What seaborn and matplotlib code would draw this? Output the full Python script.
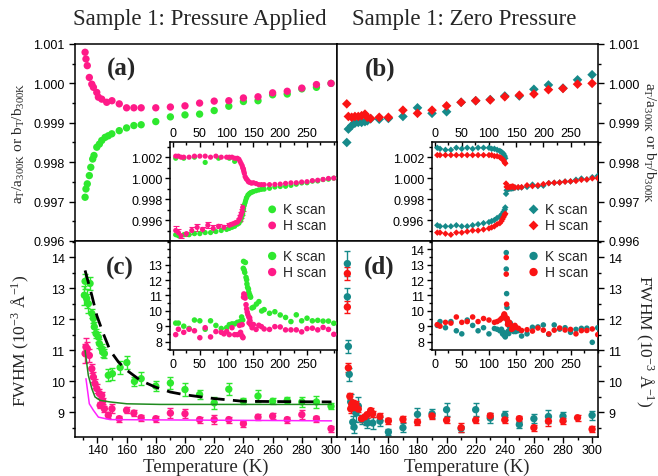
import numpy as np
import matplotlib
matplotlib.use('Agg')
import matplotlib.pyplot as plt
import seaborn as sns
from matplotlib.ticker import MultipleLocator, FormatStrFormatter

sns.set_theme(style='ticks')
plt.rcParams['font.family'] = ['Liberation Sans', 'DejaVu Sans']
plt.rcParams['mathtext.fontset'] = 'custom'
plt.rcParams['mathtext.rm'] = 'Liberation Serif'
plt.rcParams['mathtext.it'] = 'Liberation Serif:italic'
plt.rcParams['axes.linewidth'] = 1.1
plt.rcParams['axes.edgecolor'] = 'black'

SERIF = 'Liberation Serif'
C_GREEN = '#2ee82e'
C_PINK = '#ff1a88'
C_TEAL = '#168a8a'
C_RED = '#fa1414'
C_DKGREEN = '#1f8a1f'
C_MAGENTA = '#ff22ff'

# ---- panel (a): lattice ratio, pressure applied ----
t_a_k = [131.6, 132.2, 133.1, 134.5, 135.5, 136.8, 137.7, 139.6, 141.4, 143, 145.3, 147.5, 149.9,
         155, 160, 165, 170, 180, 190, 200, 210, 220, 230, 240, 250, 260, 270, 280, 290, 300]
a_k = [0.99711, 0.99732, 0.99745, 0.99766, 0.99787, 0.99808, 0.99817, 0.99838, 0.99846, 0.99855,
       0.99863, 0.99867, 0.99872, 0.9988, 0.99887, 0.99893, 0.99895, 0.99903, 0.99915, 0.9992,
       0.99922, 0.99931, 0.99942, 0.99954, 0.99956, 0.99971, 0.99973, 0.99986, 0.9999, 1.0]
t_a_h = [131.6, 132.2, 133.1, 134.5, 136.2, 137.3, 139.6, 140.7, 143, 146.4, 150, 155, 160, 165,
         170, 180, 190, 200, 210, 220, 230, 240, 250, 260, 270, 280, 290, 300]
a_h = [1.00079, 1.00062, 1.00045, 1.00015, 0.99998, 0.9999, 0.99977, 0.99965, 0.9996, 0.99952,
       0.99956, 0.99948, 0.99938, 0.99938, 0.99938, 0.99938, 0.9994, 0.99943, 0.9995, 0.99955,
       0.99956, 0.99963, 0.99966, 0.99976, 0.9998, 0.99988, 0.99997, 1.0]

# ---- panel (b): lattice ratio, zero pressure ----
t_b = [131.4, 132.5, 134.8, 137, 139.3, 141.6, 143.9, 145.5, 147.8, 153.7, 160, 170, 180, 190,
       200, 210, 220, 230, 240, 250, 260, 270, 280, 290, 300]
b_k = [0.9985, 0.99884, 0.99893, 0.99899, 0.99901, 0.99901, 0.99903, 0.99905, 0.9991, 0.99909,
       0.99911, 0.99916, 0.99938, 0.99924, 0.99928, 0.99952, 0.99956, 0.99959, 0.99968, 0.99968,
       0.99985, 0.99996, 0.99988, 1.00009, 1.00022]
b_h = [0.99948, 0.99916, 0.99914, 0.99916, 0.99916, 0.99918, 0.99922, 0.99914, 0.99911, 0.99914,
       0.99914, 0.99932, 0.99924, 0.99932, 0.99943, 0.99952, 0.99956, 0.99958, 0.99966, 0.9997,
       0.99973, 0.99984, 0.99987, 0.99998, 1.0]

# ---- panel (c): FWHM, pressure applied ----
t_c_k = [131.1, 131.6, 132.7, 133.8, 135, 136.2, 137.3, 137.9, 139.1, 140.7, 141.4, 143, 143.7,
         144.8, 147.5, 150.3, 155.6, 160.2, 165.4, 170, 180, 190, 200, 210, 220, 230, 240, 250,
         260, 270, 280, 290, 300]
c_k = [12.77, 13.22, 12.66, 12.5, 13.15, 12.18, 12.02, 11.75, 11.53, 11.42, 11.21, 11.05, 10.94,
       10.89, 10.19, 10.24, 10.44, 10.6, 9.99, 10.08, 9.84, 9.94, 9.73, 9.57, 9.3, 9.74, 9.35,
       9.52, 9.35, 9.38, 9.33, 9.33, 9.19]
c_k_err = [0.3, 0.25, 0.3, 0.3, 0.2, 0.15, 0.15, 0.15, 0.15, 0.15, 0.15, 0.15, 0.15, 0.15, 0.2,
           0.2, 0.2, 0.2, 0.15, 0.2, 0.15, 0.2, 0.2, 0.15, 0.2, 0.2, 0.1, 0.2, 0.1, 0.1, 0.15,
           0.2, 0.1]
t_c_h = [131.6, 132.2, 133.1, 134.5, 136.2, 137.3, 138.4, 139.6, 141.4, 141.9, 143, 143.7, 144.8,
         147.5, 150, 155, 160, 165, 170, 180, 190, 200, 210, 220, 230, 240, 250, 260, 270, 280,
         290, 300]
c_h = [10.89, 11.1, 11.05, 10.83, 10.4, 10.13, 9.92, 9.76, 9.6, 9.22, 9.54, 9.35, 9.11, 8.9,
       9.11, 8.79, 9.06, 8.97, 8.82, 8.79, 8.97, 8.95, 8.76, 8.76, 8.76, 8.63, 8.84, 8.87, 8.76,
       8.92, 8.79, 8.47]
c_h_err = [0.3, 0.3, 0.2, 0.2, 0.15, 0.15, 0.15, 0.15, 0.15, 0.1, 0.1, 0.1, 0.1, 0.1, 0.15, 0.1,
           0.1, 0.1, 0.1, 0.1, 0.15, 0.15, 0.1, 0.15, 0.1, 0.1, 0.1, 0.1, 0.1, 0.15, 0.1, 0.1]
fit_k_t = [131.6, 136.2, 139.6, 144.1, 148.7, 154.4, 160.2, 169.3, 179.6, 189.9, 200, 219.6, 240, 300.3]
fit_k = [13.57, 12.77, 12.12, 11.53, 10.99, 10.62, 10.35, 10.03, 9.81, 9.65, 9.56, 9.44, 9.35, 9.33]
line_k_t = [131.6, 133.8, 136.2, 138.4, 141.9, 148.7, 160.2, 183, 300.3]
line_k = [10.99, 10.19, 9.76, 9.49, 9.38, 9.33, 9.27, 9.25, 9.25]
line_h_t = [132.2, 134.5, 137.3, 140.7, 148.7, 300.3]
line_h = [10.08, 9.27, 9.06, 8.84, 8.76, 8.72]

# ---- panel (d): FWHM, zero pressure ----
t_d_k = [131.8, 131.8, 132.5, 133.1, 134.1, 135.5, 136.4, 137.7, 139.3, 141.6, 144.6, 145.5,
         149.2, 154.2, 160, 170, 180, 190, 200, 210, 220, 230, 240, 250, 260, 270, 280, 300]
d_k = [13.79, 12.72, 11.12, 10.22, 9.33, 8.68, 8.52, 8.97, 9.2, 8.76, 8.74, 8.65, 8.65, 8.71,
       8.36, 8.5, 8.93, 8.95, 9.08, 8.47, 9.08, 8.81, 8.9, 8.6, 8.79, 8.86, 8.87, 8.9]
d_k_err = [0.4, 0.3, 0.2, 0.2, 0.25, 0.2, 0.2, 0.3, 0.3, 0.15, 0.15, 0.15, 0.2, 0.15, 0.1, 0.15,
           0.2, 0.15, 0.2, 0.1, 0.2, 0.15, 0.15, 0.1, 0.15, 0.2, 0.15, 0.15]
t_d_h = [131.8, 131.8, 132.5, 133.5, 134.1, 134.8, 135.5, 136.4, 137.7, 139.3, 141.6, 143.9,
         145.5, 147.8, 149.2, 154.2, 160, 170, 180, 190, 200, 210, 220, 230, 240, 250, 260, 270,
         280, 290, 300]
d_h = [13.47, 12.39, 10.43, 9.51, 9.11, 9.25, 9.3, 9.15, 9.25, 9.1, 8.79, 8.85, 8.92, 9.05, 8.95,
       8.86, 8.72, 8.77, 8.68, 8.88, 8.74, 8.5, 8.74, 8.88, 8.75, 8.79, 8.5, 8.71, 8.72, 8.82, 8.45]
d_h_err = [0.2, 0.2, 0.15, 0.1, 0.15, 0.1, 0.1, 0.1, 0.1, 0.1, 0.1, 0.1, 0.1, 0.1, 0.1, 0.1, 0.1,
           0.1, 0.1, 0.1, 0.1, 0.15, 0.1, 0.1, 0.1, 0.1, 0.1, 0.15, 0.1, 0.1, 0.1]

# ---- inset low-temperature parts (full range 0-300 K) ----
ia_t_k_low = [5, 10, 20, 30, 40, 50, 60, 70, 80, 90, 100, 105, 110, 115, 120, 123, 125, 127, 129, 130, 131]
ia_k_low = [0.9946, 0.9945, 0.9946, 0.9946, 0.9947, 0.9947, 0.9948, 0.9948, 0.9949, 0.9950, 0.9951,
            0.9952, 0.9953, 0.9954, 0.9956, 0.9957, 0.9959, 0.9961, 0.9964, 0.9966, 0.9969]
ia_t_k_up = [5, 20, 40, 60, 85, 105, 115]
ia_k_up = [1.0019, 1.0019, 1.0020, 1.0015, 1.0019, 1.0019, 1.0016]
ia_t_h_up = [5, 10, 15, 20, 30, 40, 50, 60, 70, 80, 90, 100, 105, 110, 115, 120, 123, 125, 127, 129, 130, 131]
ia_h_up = [1.0021, 1.0021, 1.0020, 1.0020, 1.0020, 1.0021, 1.0021, 1.0021, 1.0020, 1.0021, 1.0020,
           1.0020, 1.0020, 1.0020, 1.0019, 1.0019, 1.0018, 1.0016, 1.0014, 1.0012, 1.0010, 1.0009]
ia_t_h_low = [5, 10, 15, 25, 35, 45, 55, 65, 75, 85, 95, 105, 110, 115, 120, 123, 125, 127, 129, 130]
ia_h_low = [0.9950, 0.9948, 0.9945, 0.9947, 0.9950, 0.9953, 0.9951, 0.9955, 0.9952, 0.9954, 0.9953,
            0.9955, 0.9956, 0.9957, 0.9958, 0.9960, 0.9962, 0.9965, 0.9968, 0.9972]
ia_h_low_err = [0.0004, 0.0003, 0.0002, 0.0002, 0.0003, 0.0003, 0.0002, 0.0003, 0.0003, 0.0002,
                0.0002, 0.0002, 0.0002, 0.0002, 0.0002, 0.0002, 0.0003, 0.0003, 0.0003, 0.0003]

ib_t_low = [5, 10, 20, 30, 40, 50, 60, 70, 80, 90, 100, 105, 110, 115, 120, 123, 125, 127, 129, 130]
ib_k_up = [1.0029, 1.0028, 1.0027, 1.0027, 1.0029, 1.0028, 1.0029, 1.0028, 1.0029, 1.0029, 1.0029,
           1.0028, 1.0028, 1.0027, 1.0026, 1.0025, 1.0024, 1.0023, 1.0021, 1.0019]
ib_h_up = [1.0022, 1.0022, 1.0022, 1.0022, 1.0022, 1.0022, 1.0022, 1.0022, 1.0022, 1.0022, 1.0022,
           1.0022, 1.0021, 1.0021, 1.0020, 1.0019, 1.0018, 1.0017, 1.0015, 1.0014]
ib_k_low = [0.9955, 0.9954, 0.9954, 0.9954, 0.9955, 0.9954, 0.9954, 0.9955, 0.9956, 0.9957, 0.9958,
            0.9959, 0.9960, 0.9962, 0.9963, 0.9965, 0.9966, 0.9968, 0.9970, 0.9972]
ib_h_low = [0.9948, 0.9948, 0.9947, 0.9946, 0.9948, 0.9948, 0.9949, 0.9950, 0.9950, 0.9951, 0.9952,
            0.9953, 0.9954, 0.9956, 0.9957, 0.9959, 0.9961, 0.9963, 0.9965, 0.9966]

ic_t_k_low = [5, 10, 20, 30, 40, 50, 60, 70, 80, 90, 100, 105, 110, 115, 120, 125, 128, 130]
ic_k_low = [9.2, 9.2, 9.0, 8.85, 9.4, 9.35, 8.8, 9.35, 9.05, 8.85, 8.9, 9.1, 9.15, 9.15, 9.25, 9.3, 9.6, 9.4]
ic_t_h_low = [5, 10, 20, 30, 40, 50, 60, 70, 80, 90, 95, 100, 105, 110, 115, 120, 124, 126, 128, 129, 130, 130.5]
ic_h_low = [8.45, 8.8, 8.6, 8.8, 8.7, 8.25, 8.9, 8.3, 8.65, 8.6, 8.5, 8.65, 8.45, 8.9, 8.45, 8.45,
            9.05, 8.6, 8.4, 9.1, 8.3, 8.25]

id_t_low = [5, 10, 20, 30, 40, 50, 60, 70, 80, 90, 100, 110, 115, 120, 123, 125, 127, 128, 129, 130, 131, 290]
id_k_low = [9.05, 9.3, 8.9, 9.3, 8.7, 8.5, 9.4, 9.05, 8.7, 8.9, 8.5, 8.85, 8.8, 8.7, 8.8, 8.5, 8.6,
            8.4, 8.45, 8.3, 8.45, 7.95]
id_t_h_low = [5, 10, 20, 30, 40, 50, 60, 70, 80, 90, 100, 110, 115, 120, 123, 125, 127, 128, 129, 130, 131]
id_h_low = [9.1, 9.0, 9.25, 9.2, 9.6, 9.25, 9.3, 9.6, 9.3, 9.5, 9.4, 9.25, 9.3, 9.4, 9.5, 9.55, 9.7,
            9.8, 9.75, 9.6, 9.5]

RATIO_LABEL = r'a$_\mathrm{T}$/a$_\mathrm{300K}$ or b$_\mathrm{T}$/b$_\mathrm{300K}$'
FWHM_LABEL = r'FWHM (10$^\mathrm{-3}$ Å$^\mathrm{-1}$)'

fig = plt.figure(figsize=(6.58, 4.77), dpi=100)
ax_a = fig.add_axes([0.1140, 0.4927, 0.3982, 0.4130])
ax_b = fig.add_axes([0.5122, 0.4927, 0.3967, 0.4130])
ax_c = fig.add_axes([0.1140, 0.0818, 0.3982, 0.4109])
ax_d = fig.add_axes([0.5122, 0.0818, 0.3967, 0.4109])


def dots(ax, t, v, color, marker='o', s=28, label=None, z=3):
    sns.scatterplot(x=t, y=v, ax=ax, color=color, marker=marker, s=s, edgecolor='none',
                    linewidth=0, label=label, legend=False, zorder=z)


def bars(ax, t, v, err, color, lw=1.0):
    ax.errorbar(t, v, yerr=err, fmt='none', ecolor=color, elinewidth=lw, capsize=2,
                capthick=lw, zorder=2)


def main_style(ax, right=False, bottom_labels=False):
    ax.set_xlim(124.7, 304.1)
    ax.xaxis.set_major_locator(MultipleLocator(20))
    ax.xaxis.set_minor_locator(MultipleLocator(10))
    ax.tick_params(which='both', direction='out', labelsize=9, width=1, colors='black')
    ax.tick_params(which='major', length=4)
    ax.tick_params(which='minor', length=2)
    ax.tick_params(axis='x', labelbottom=bottom_labels, pad=1)
    if right:
        ax.tick_params(axis='y', which='both', left=False, labelleft=False, right=True, labelright=True)
    ax.set_xlabel('')
    ax.set_ylabel('')


# (a)
dots(ax_a, t_a_k, a_k, C_GREEN)
dots(ax_a, t_a_h, a_h, C_PINK)
ax_a.set_ylim(0.996, 1.001)
# (b)
dots(ax_b, t_b, b_k, C_TEAL, marker='D', s=24)
dots(ax_b, t_b, b_h, C_RED, marker='D', s=24)
ax_b.set_ylim(0.996, 1.001)
for ax in (ax_a, ax_b):
    ax.yaxis.set_major_locator(MultipleLocator(0.001))
    ax.yaxis.set_minor_locator(MultipleLocator(0.0005))
    ax.yaxis.set_major_formatter(FormatStrFormatter('%.3f'))
main_style(ax_a)
main_style(ax_b, right=True)

# (c)
bars(ax_c, t_c_k, c_k, c_k_err, C_GREEN)
dots(ax_c, t_c_k, c_k, C_GREEN)
bars(ax_c, t_c_h, c_h, c_h_err, C_PINK)
dots(ax_c, t_c_h, c_h, C_PINK)
sns.lineplot(x=fit_k_t, y=fit_k, ax=ax_c, color='black', linestyle=(0, (5, 3)), linewidth=2,
             sort=False, estimator=None, zorder=4)
sns.lineplot(x=line_k_t, y=line_k, ax=ax_c, color=C_DKGREEN, linewidth=1.1, sort=False,
             estimator=None, zorder=4)
sns.lineplot(x=line_h_t, y=line_h, ax=ax_c, color=C_MAGENTA, linewidth=1.1, sort=False,
             estimator=None, zorder=4)
# (d)
bars(ax_d, t_d_k, d_k, d_k_err, C_TEAL)
dots(ax_d, t_d_k, d_k, C_TEAL)
bars(ax_d, t_d_h, d_h, d_h_err, C_RED)
dots(ax_d, t_d_h, d_h, C_RED)
for ax in (ax_c, ax_d):
    ax.set_ylim(8.2, 14.52)
    ax.yaxis.set_major_locator(MultipleLocator(1))
    ax.yaxis.set_minor_locator(MultipleLocator(0.5))
main_style(ax_c, bottom_labels=True)
main_style(ax_d, right=True, bottom_labels=True)

for ax, lab, x, y in ((ax_a, '(a)', 0.176, 0.878), (ax_b, '(b)', 0.165, 0.878),
                      (ax_c, '(c)', 0.172, 0.867), (ax_d, '(d)', 0.161, 0.872)):
    ax.text(x, y, lab, transform=ax.transAxes, family=SERIF, fontsize=18, fontweight='bold',
            ha='center', va='center')

# ---- insets ----
ins_a = fig.add_axes([0.2584, 0.4927, 0.2538, 0.2075])
ins_b = fig.add_axes([0.6565, 0.4927, 0.2523, 0.2075])
ins_c = fig.add_axes([0.2584, 0.2642, 0.2538, 0.2285])
ins_d = fig.add_axes([0.6565, 0.2642, 0.2523, 0.2285])

bars(ins_a, ia_t_h_low, ia_h_low, ia_h_low_err, C_PINK, lw=0.8)
dots(ins_a, ia_t_k_up + ia_t_k_low + t_a_k, ia_k_up + ia_k_low + a_k, C_GREEN, s=14, label='K scan')
dots(ins_a, ia_t_h_up + ia_t_h_low + t_a_h, ia_h_up + ia_h_low + a_h, C_PINK, s=14, label='H scan')

dots(ins_b, ib_t_low + ib_t_low + t_b, ib_k_up + ib_k_low + b_k, C_TEAL, marker='D', s=11, label='K scan')
dots(ins_b, ib_t_low + ib_t_low + t_b, ib_h_up + ib_h_low + b_h, C_RED, marker='D', s=11, label='H scan')

dots(ins_c, ic_t_k_low + t_c_k, ic_k_low + c_k, C_GREEN, s=16, label='K scan')
dots(ins_c, ic_t_h_low + t_c_h, ic_h_low + c_h, C_PINK, s=16, label='H scan')

dots(ins_d, id_t_low + t_d_k, id_k_low + d_k, C_TEAL, s=16, label='K scan')
dots(ins_d, id_t_h_low + t_d_h, id_h_low + d_h, C_RED, s=16, label='H scan')

LEG = dict(frameon=False, fontsize=10, handletextpad=0.3, handlelength=1.0, labelspacing=0.15,
           borderpad=0, borderaxespad=0, markerscale=1.5)
for ins in (ins_a, ins_b):
    ins.set_ylim(0.994, 1.00345)
    ins.set_yticks([0.996, 0.998, 1.000, 1.002])
    ins.yaxis.set_minor_locator(MultipleLocator(0.001))
    ins.yaxis.set_major_formatter(FormatStrFormatter('%.3f'))
    ins.xaxis.tick_top()
    ins.tick_params(axis='x', which='both', direction='in', pad=2)
    ins.legend(loc='lower left', bbox_to_anchor=(0.57, 0.09), **LEG)
for ins in (ins_c, ins_d):
    ins.set_ylim(7.45, 14.55)
    ins.yaxis.set_minor_locator(MultipleLocator(0.5))
    ins.tick_params(axis='x', which='both', direction='out', pad=2)
    ins.legend(loc='upper left', bbox_to_anchor=(0.57, 0.93), **LEG)
ins_c.set_yticks([8, 9, 10, 11, 12, 13])
ins_d.set_yticks([8, 9, 10, 11, 12, 13, 14])
ins_a.set_xlim(-5.6, 306)
ins_c.set_xlim(-5.6, 306)
ins_b.set_xlim(-4.8, 300.5)
ins_d.set_xlim(-4.8, 300.5)
for ins in (ins_a, ins_b, ins_c, ins_d):
    ins.set_facecolor('white')
    ins.set_xticks([0, 50, 100, 150, 200, 250])
    ins.xaxis.set_minor_locator(MultipleLocator(25))
    ins.tick_params(which='both', labelsize=9, width=1, colors='black')
    ins.tick_params(axis='y', which='both', direction='out', pad=2)
    ins.tick_params(which='major', length=3.5)
    ins.tick_params(which='minor', length=2)
    ins.set_xlabel('')
    ins.set_ylabel('')

# ---- figure text ----
fig.text(200 / 658, 1 - 20 / 477, 'Sample 1: Pressure Applied', family=SERIF, fontsize=16.5,
         ha='center', va='center')
fig.text(464 / 658, 1 - 20 / 477, 'Sample 1: Zero Pressure', family=SERIF, fontsize=16.5,
         ha='center', va='center')
fig.text(206 / 658, 1 - 467 / 477, 'Temperature (K)', family=SERIF, fontsize=13.5,
         ha='center', va='center')
fig.text(467 / 658, 1 - 467 / 477, 'Temperature (K)', family=SERIF, fontsize=13.5,
         ha='center', va='center')
fig.text(19 / 658, 1 - 143 / 477, RATIO_LABEL, family=SERIF, fontsize=11, rotation=90,
         ha='center', va='center')
fig.text(649 / 658, 1 - 143 / 477, RATIO_LABEL, family=SERIF, fontsize=11, rotation=270,
         ha='center', va='center')
fig.text(20 / 658, 1 - 341 / 477, FWHM_LABEL, family=SERIF, fontsize=12.5, rotation=90,
         ha='center', va='center')
fig.text(645 / 658, 1 - 341 / 477, FWHM_LABEL, family=SERIF, fontsize=12.5, rotation=270,
         ha='center', va='center')

fig.savefig('out.png', dpi=100)
